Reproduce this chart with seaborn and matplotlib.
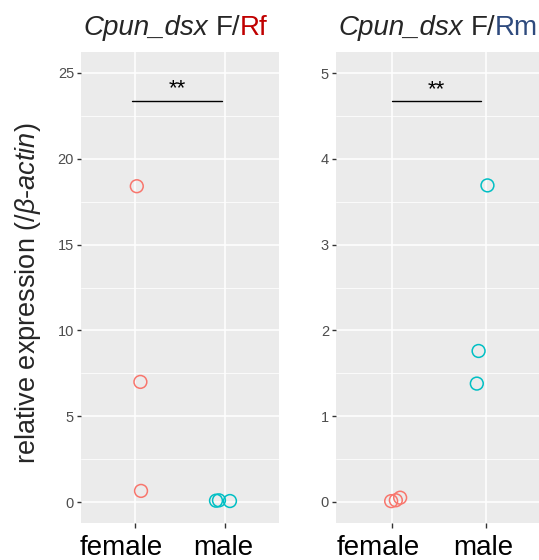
import pandas as pd
import numpy as np
import matplotlib
matplotlib.use("Agg")
import matplotlib.pyplot as plt
import seaborn as sns
from matplotlib.ticker import MultipleLocator
from matplotlib.transforms import IdentityTransform, ScaledTranslation

# values
groups = ["female", "male"]
group_colors = ["#F8766D", "#00BFC4"]

rf_sex = ["female", "female", "female", "male", "male", "male"]
rf_expr = [18.4, 7.0, 0.65, 0.08, 0.1, 0.06]
rf_jitter = [0.02, 0.06, 0.067, -0.1, -0.067, 0.055]

rm_sex = ["female", "female", "female", "male", "male", "male"]
rm_expr = [0.01, 0.02, 0.05, 3.69, 1.76, 1.38]
rm_jitter = [-0.01, 0.04, 0.086, 0.02, -0.075, -0.094]

# significance bars: (x start, x end, y, label)
rf_sig = (-0.03, 0.97, 23.37, "**")
rm_sig = (0.0, 0.95, 4.67, "**")

sns.set_style("white")
plt.rcParams["font.family"] = ["Liberation Sans", "DejaVu Sans"]
plt.rcParams["mathtext.fontset"] = "custom"
plt.rcParams["mathtext.rm"] = "Liberation Sans"
plt.rcParams["mathtext.it"] = "Liberation Sans:italic"

fig = plt.figure(figsize=(5.39, 5.6), dpi=100)
ax1 = fig.add_axes([81 / 539, 37 / 560, 198 / 539, 471 / 560])
ax2 = fig.add_axes([336 / 539, 37 / 560, 203 / 539, 471 / 560])


def draw_panel(ax, sex, expr, jitter, ylim, ybreak, sig, px_unit):
    df = pd.DataFrame({"sex": sex, "expr": expr, "jit": jitter})
    df["xpos"] = df["sex"].map({g: i for i, g in enumerate(groups)}) + df["jit"]
    sns.scatterplot(data=df, x="xpos", y="expr", hue="sex", hue_order=groups,
                    palette=group_colors, s=85, marker="o", linewidth=1.1,
                    legend=False, ax=ax, zorder=3)
    pts = ax.collections[-1]
    pts.set_edgecolors(pts.get_facecolors())
    pts.set_facecolors("none")

    x0, x1, y, lab = sig
    ax.plot([x0, x1], [y, y], color="black", lw=1.0, zorder=4)
    ax.text((x0 + x1) / 2, y + (ylim[1] - ylim[0]) * 0.003, lab,
            ha="center", va="bottom", fontsize=16, color="black")

    ax.set_facecolor("#EBEBEB")
    for sp in ax.spines.values():
        sp.set_visible(False)
    ax.set_ylim(*ylim)
    ax.set_xlim(-0.6, -0.6 + ax.get_position().width * 539 / px_unit)
    ax.set_xticks(range(len(groups)))
    ax.set_xticklabels(groups, ha="right")
    ax.yaxis.set_major_locator(MultipleLocator(ybreak))
    ax.yaxis.set_minor_locator(MultipleLocator(ybreak / 2))
    ax.set_axisbelow(True)
    ax.grid(which="major", color="white", lw=1.1)
    ax.grid(which="minor", axis="y", color="white", lw=0.55)
    ax.tick_params(axis="y", which="major", length=3, width=1, color="#333333",
                   labelcolor="#4D4D4D", labelsize=10.5, pad=2, left=True)
    ax.tick_params(axis="y", which="minor", length=0)
    ax.tick_params(axis="x", length=3.5, width=1, color="#333333",
                   labelcolor="black", labelsize=20, pad=5, bottom=True)
    ax.set_xlabel("")
    ax.set_ylabel("")


draw_panel(ax1, rf_sex, rf_expr, rf_jitter, (-1.22, 26.22), 5, rf_sig, 90)
draw_panel(ax2, rm_sex, rm_expr, rm_jitter, (-0.245, 5.245), 1, rm_sig, 93.5)

fig.text(28 / 539, 1 - 293 / 560,
         r"relative expression (/$\mathit{\beta}$-$\mathit{actin}$)",
         rotation=90, ha="center", va="center", fontsize=19.5)


def rich_title(ax, parts, size=20):
    fig.canvas.draw()
    bb = ax.get_window_extent()
    base_y = bb.y1 + 17
    texts = []
    for s, kw in parts:
        t = fig.text(0, 0, s, fontsize=size, ha="left", va="baseline",
                     transform=IdentityTransform(), **kw)
        texts.append(t)
    fig.canvas.draw()
    r = fig.canvas.get_renderer()
    space = size * 100 / 72 * 0.278
    widths = [t.get_window_extent(r).width for t in texts]
    x = bb.x0 + 2
    for i, (t, w) in enumerate(zip(texts, widths)):
        t.set_position((x, base_y))
        x += w + (space if i == 0 else 0)


rich_title(ax1, [("Cpun_dsx", {"style": "italic"}), ("F/", {}),
                 ("Rf", {"color": "#C00000"})])
rich_title(ax2, [("Cpun_dsx", {"style": "italic"}), ("F/", {}),
                 ("Rm", {"color": "#2E4A7D"})])

# x labels sit right-aligned a bit past their tick, as in the reference
fig.canvas.draw()
for ax in (ax1, ax2):
    for tick in ax.xaxis.get_major_ticks():
        lab = tick.label1
        lab.set_transform(lab.get_transform()
                          + ScaledTranslation(28 / 100, 0, fig.dpi_scale_trans))

fig.savefig("out.png", dpi=100)
